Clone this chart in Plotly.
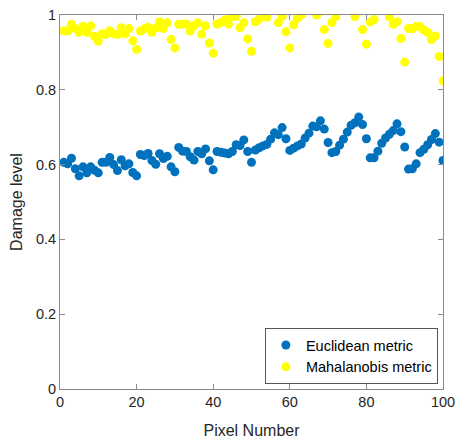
import plotly.graph_objects as go

pixels = list(range(1, 101))

euclidean = [
    0.606, 0.602, 0.617, 0.589, 0.570, 0.594, 0.578, 0.594, 0.585, 0.578,
    0.606, 0.606, 0.619, 0.600, 0.584, 0.613, 0.597, 0.602, 0.579, 0.570,
    0.627, 0.624, 0.630, 0.611, 0.601, 0.629, 0.616, 0.622, 0.594, 0.581,
    0.646, 0.636, 0.635, 0.621, 0.612, 0.635, 0.629, 0.642, 0.610, 0.586,
    0.635, 0.633, 0.631, 0.629, 0.635, 0.653, 0.651, 0.666, 0.635, 0.606,
    0.639, 0.645, 0.650, 0.654, 0.668, 0.685, 0.680, 0.699, 0.669, 0.638,
    0.644, 0.650, 0.655, 0.671, 0.684, 0.703, 0.701, 0.717, 0.695, 0.659,
    0.632, 0.635, 0.652, 0.668, 0.687, 0.705, 0.712, 0.727, 0.707, 0.669,
    0.618, 0.618, 0.636, 0.657, 0.671, 0.681, 0.691, 0.709, 0.688, 0.647,
    0.588, 0.589, 0.602, 0.632, 0.641, 0.653, 0.667, 0.683, 0.660, 0.611,
]

# values above 1 lie outside the axis limits and are clipped, as in the reference
mahalanobis = [
    0.958, 0.957, 0.975, 0.964, 0.954, 0.970, 0.954, 0.971, 0.943, 0.930,
    0.950, 0.948, 0.958, 0.950, 0.948, 0.966, 0.950, 0.964, 0.931, 0.908,
    0.957, 0.963, 0.967, 0.954, 0.965, 0.982, 0.964, 0.979, 0.935, 0.912,
    0.975, 0.975, 0.976, 0.957, 0.971, 0.979, 0.949, 0.971, 0.925, 0.898,
    0.976, 0.980, 0.987, 0.976, 0.996, 0.996, 0.966, 0.979, 0.936, 0.903,
    0.982, 0.989, 0.998, 0.994, 1.030, 1.030, 0.979, 0.996, 0.955, 0.912,
    0.974, 0.991, 1.000, 1.030, 1.030, 1.030, 1.000, 1.030, 0.961, 0.924,
    0.980, 0.996, 1.030, 1.030, 1.030, 1.030, 0.996, 1.030, 0.961, 0.922,
    0.981, 0.988, 1.030, 1.030, 1.030, 0.995, 0.975, 0.982, 0.937, 0.874,
    0.964, 0.963, 0.969, 0.969, 0.960, 0.953, 0.934, 0.944, 0.889, 0.824,
]

x_ticks = [0, 20, 40, 60, 80, 100]
x_tick_labels = ["0", "20", "40", "60", "80", "100"]
y_ticks = [0, 0.2, 0.4, 0.6, 0.8, 1]
y_tick_labels = ["0", "0.2", "0.4", "0.6", "0.8", "1"]

FONT = "Liberation Sans, Arial, sans-serif"
TXT = "#262626"
AX = "#8a8a8a"

fig = go.Figure()
fig.add_trace(go.Scatter(
    x=pixels, y=euclidean, mode="markers", name="Euclidean metric",
    marker=dict(color="#0072BD", size=9, line=dict(width=0)),
))
fig.add_trace(go.Scatter(
    x=pixels, y=mahalanobis, mode="markers", name="Mahalanobis metric",
    marker=dict(color="#FFFF00", size=9, line=dict(width=0)),
))

axis_common = dict(
    showgrid=False, zeroline=False, showline=True, linecolor=AX, linewidth=1,
    mirror="allticks", ticks="inside", ticklen=5, tickcolor=AX, tickwidth=1,
    tickfont=dict(family=FONT, size=14.5, color=TXT), automargin=False,
)

fig.update_layout(
    width=456, height=445,
    margin=dict(l=60, r=13, t=15, b=56),
    paper_bgcolor="white", plot_bgcolor="white",
    font=dict(family=FONT, color=TXT),
    showlegend=True,
    legend=dict(
        x=0.535, y=0.163, xanchor="left", yanchor="top",
        bgcolor="white", bordercolor="#555555", borderwidth=1,
        font=dict(family=FONT, size=14.5, color="#000000"),
        itemwidth=30, tracegroupgap=0,
    ),
    xaxis=dict(
        range=[0, 100], tickvals=x_ticks, ticktext=x_tick_labels,
        title=dict(text="Pixel Number", font=dict(family=FONT, size=16, color=TXT), standoff=15),
        **axis_common,
    ),
    yaxis=dict(
        range=[0, 1], tickvals=y_ticks, ticktext=y_tick_labels,
        title=dict(text="Damage level", font=dict(family=FONT, size=16, color=TXT), standoff=9),
        **axis_common,
    ),
)

fig.write_html("out.html")
